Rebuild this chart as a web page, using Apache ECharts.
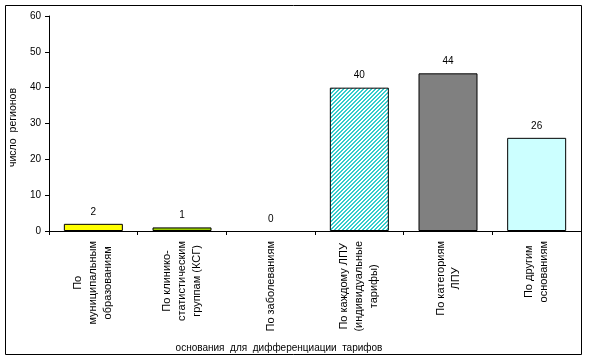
<!DOCTYPE html>
<html><head><meta charset="utf-8">
<script src="https://cdn.jsdelivr.net/npm/echarts@6/dist/echarts.min.js"></script>
<style>html,body{margin:0;padding:0;background:#fff}#c{width:589px;height:362px}</style>
</head><body><div id="c"></div>
<script>
const categories = [
  'По\nмуниципальным\nобразованиям',
  'По клинико-\nстатистическим\nгруппам (КСГ)',
  'По заболеваниям',
  'По каждому ЛПУ\n(индивидуальные\nтарифы)',
  'По категориям\nЛПУ',
  'По другим\nоснованиям'
];
const values = [2, 1, 0, 40, 44, 26];
const yTicks = {min: 0, max: 60, interval: 10};
const yTitle = 'число  регионов';
const xTitle = 'основания  для  дифференциации  тарифов';

// hatch pattern for one bar
const pc = document.createElement('canvas');
pc.width = 4; pc.height = 4;
const pctx = pc.getContext('2d');
pctx.fillStyle = '#ffffff'; pctx.fillRect(0,0,4,4);
pctx.fillStyle = '#33CCCC';
for (let y = 0; y < 4; y++) {
  pctx.fillRect((3 - y + 4) % 4, y, 1, 1);
  pctx.fillRect((4 - y + 4) % 4, y, 1, 1);
}
const colors = ['#FFFF00', '#99CC00', '#FFFFFF', {image: pc, repeat: 'repeat'}, '#808080', '#CCFFFF'];

const font = '"Liberation Sans", Arial, sans-serif';
const chart = echarts.init(document.getElementById('c'), null, {renderer: 'canvas'});
chart.setOption({
  animation: false,
  backgroundColor: '#fff',
  grid: {left: 48, right: 8, top: 16, bottom: 131, containLabel: false},
  graphic: [{
    type: 'rect', silent: true, z: -1,
    shape: {x: 5.5, y: 5.5, width: 576, height: 349},
    style: {fill: 'none', stroke: '#000', lineWidth: 1}
  }],
  xAxis: {
    type: 'category', data: categories,
    axisLine: {lineStyle: {color: '#000', width: 1}},
    axisTick: {show: true, length: 4, lineStyle: {color: '#000'}},
    axisLabel: {
      rotate: 90, margin: 10, interval: 0,
      color: '#000', fontFamily: font, fontSize: 11,
      formatter: v => v.split('\n').map(s => '{c|' + s + '}').join('\n'),
      rich: {c: {align: 'center', fontFamily: font, fontSize: 11, lineHeight: 15, color: '#000'}}
    },
    name: xTitle, nameLocation: 'middle', nameGap: 112,
    nameTextStyle: {color: '#000', fontFamily: font, fontSize: 10, padding: [0, 72, 0, 0]}
  },
  yAxis: {
    type: 'value', min: yTicks.min, max: yTicks.max, interval: yTicks.interval,
    axisLine: {show: true, lineStyle: {color: '#000', width: 1}},
    axisTick: {show: true, length: 4, lineStyle: {color: '#000'}},
    splitLine: {show: false},
    axisLabel: {color: '#000', fontFamily: font, fontSize: 10, margin: 8},
    name: yTitle, nameLocation: 'middle', nameGap: 26, nameRotate: 90,
    nameTextStyle: {color: '#000', fontFamily: font, fontSize: 10.5, padding: [0, 8, 0, 0]}
  },
  series: [{
    type: 'bar', barWidth: 59,
    data: values.map((v, i) => ({value: v, itemStyle: {color: colors[i], borderColor: '#000', borderWidth: v > 0 ? 1 : 0}})),
    label: {show: true, position: 'top', distance: 7, color: '#000', fontFamily: font, fontSize: 10}
  }]
});
</script></body></html>
